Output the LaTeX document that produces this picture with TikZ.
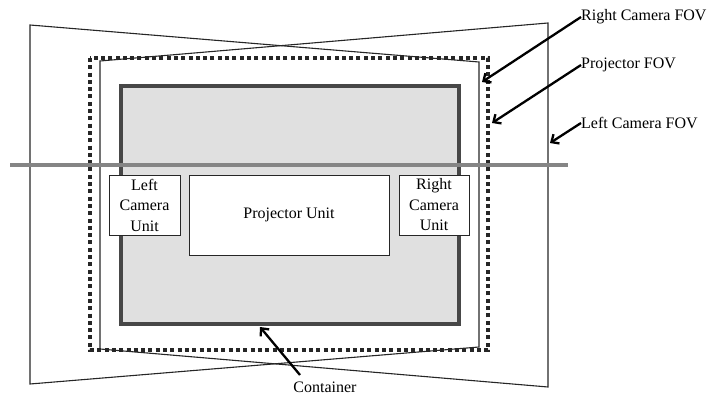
\documentclass[tikz,border=0pt]{standalone}
\usepackage{fontspec}
\setmainfont{Liberation Serif}
\usetikzlibrary{arrows.meta}
\begin{document}
\begin{tikzpicture}[x=1pt,y=-1pt,
  fov/.style={draw=black!85, line width=1.1pt},
  projfov/.style={draw=black!85, line width=3.6pt, dash pattern=on 4pt off 3.3pt},
  contbox/.style={draw=black!72, fill=black!12, line width=4pt, minimum width=338pt, minimum height=238pt, inner sep=0pt},
  unitbox/.style={draw=black!85, fill=white, line width=0.9pt, align=center, inner sep=0pt, font=\fontsize{16}{20.5}\selectfont},
  lab/.style={inner sep=0pt, font=\fontsize{16}{19}\selectfont},
  arr/.style={line width=2.3pt, -{Straight Barb[length=6pt,width=11pt,line width=2.3pt]}},
  hline/.style={draw=black!48, line width=4pt}
]
\useasboundingbox (0,0) rectangle (714,403);
% left camera FOV
\draw[fov] (100,61) -- (548,23) -- (548,387) -- (100,349) -- cycle;
% right camera FOV
\draw[fov] (30,25) -- (479,62) -- (479,347) -- (30,384) -- cycle;
% container
\node[contbox] (cont) at (290,205) {};
% projector FOV
\draw[projfov] (90,58) rectangle (488,350);
% horizontal line
\draw[hline] (10,165) -- (568,165);
% units
\node[unitbox, minimum width=71pt, minimum height=60pt] (lcu) at (144.5,205) {Left\\Camera\\Unit};
\node[unitbox, minimum width=200pt, minimum height=80pt] (pu) at (289,215) {Projector Unit};
\node[unitbox, minimum width=70pt, minimum height=60pt] (rcu) at (434,205) {Right\\Camera\\Unit};
% labels
\node[lab, anchor=west] (rcf) at (581,17) {Right Camera FOV};
\node[lab, anchor=west] (pf) at (581,65) {Projector FOV};
\node[lab, anchor=west] (lcf) at (581,123) {Left Camera FOV};
\node[lab] (cl) at (325,387) {Container};
% arrow tips
\coordinate (rcft) at (482,82);
\coordinate (pft) at (492,123);
\coordinate (lcft) at (550,143);
\coordinate (clt) at (260,327);
\coordinate (cls) at (300,375);
\draw[arr] (rcf.west) -- (rcft);
\draw[arr] (pf.west) -- (pft);
\draw[arr] (lcf.west) -- (lcft);
\draw[arr] (cls) -- (clt);
\end{tikzpicture}
\end{document}
